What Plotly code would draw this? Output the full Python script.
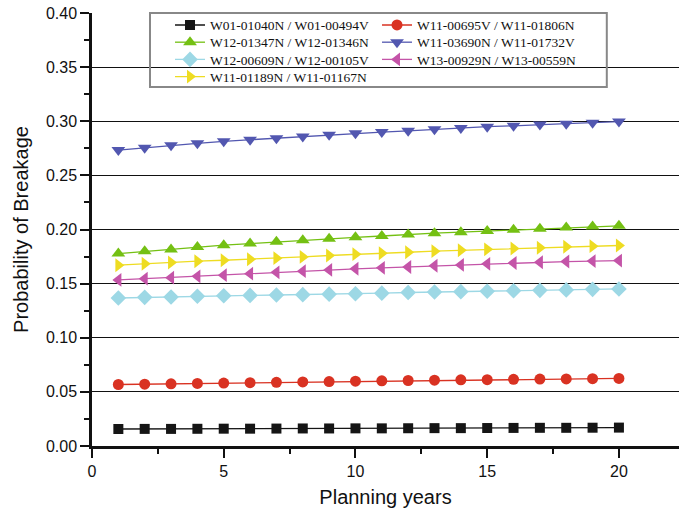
import plotly.graph_objects as go

years = list(range(1, 21))

names = [
    "W01-01040N / W01-00494V",
    "W11-00695V / W11-01806N",
    "W12-01347N / W12-01346N",
    "W11-03690N / W11-01732V",
    "W12-00609N / W12-00105V",
    "W13-00929N / W13-00559N",
    "W11-01189N / W11-01167N",
]

w01 = [0.0157, 0.0158, 0.0158, 0.0159, 0.0160, 0.0160, 0.0161, 0.0162, 0.0162, 0.0163,
       0.0163, 0.0164, 0.0165, 0.0165, 0.0166, 0.0167, 0.0168, 0.0168, 0.0169, 0.0170]
w11_00695 = [0.0568, 0.0571, 0.0574, 0.0578, 0.0581, 0.0585, 0.0588, 0.0592, 0.0595, 0.0599,
             0.0602, 0.0605, 0.0608, 0.0611, 0.0613, 0.0616, 0.0618, 0.0620, 0.0622, 0.0624]
w12_01347 = [0.1778, 0.1798, 0.1815, 0.1838, 0.1855, 0.1870, 0.1886, 0.1900, 0.1915, 0.1928,
             0.1940, 0.1954, 0.1966, 0.1975, 0.1985, 0.1997, 0.2006, 0.2018, 0.2027, 0.2034]
w11_03690 = [0.2734, 0.2756, 0.2778, 0.2796, 0.2815, 0.2830, 0.2843, 0.2860, 0.2875, 0.2890,
             0.2900, 0.2912, 0.2926, 0.2938, 0.2950, 0.2958, 0.2970, 0.2978, 0.2987, 0.2997]
w12_00609 = [0.1367, 0.1373, 0.1377, 0.1383, 0.1388, 0.1391, 0.1395, 0.1398, 0.1403, 0.1407,
             0.1412, 0.1418, 0.1422, 0.1426, 0.1429, 0.1434, 0.1438, 0.1442, 0.1447, 0.1451]
w13_00929 = [0.1534, 0.1546, 0.1555, 0.1567, 0.1578, 0.1592, 0.1604, 0.1615, 0.1627, 0.1637,
             0.1646, 0.1654, 0.1665, 0.1673, 0.1683, 0.1691, 0.1697, 0.1704, 0.1708, 0.1713]
w11_01189 = [0.1670, 0.1684, 0.1695, 0.1707, 0.1716, 0.1725, 0.1735, 0.1747, 0.1760, 0.1772,
             0.1781, 0.1790, 0.1800, 0.1808, 0.1817, 0.1824, 0.1831, 0.1841, 0.1846, 0.1852]

series = [w01, w11_00695, w12_01347, w11_03690, w12_00609, w13_00929, w11_01189]
colors = ["#151515", "#D93222", "#74C013", "#5257B0", "#9DD8E5", "#C454A8", "#EEDC22"]
symbols = ["square", "circle", "triangle-up", "triangle-down", "diamond", "triangle-left", "triangle-right"]
sizes = [10, 11, 12, 12, 12, 12, 12]
# legend rows (two entries per row)
legend_ids = ["legend", "legend", "legend2", "legend2", "legend3", "legend3", "legend4"]

fig = go.Figure()
for name, ys, c, s, sz, lg in zip(names, series, colors, symbols, sizes, legend_ids):
    fig.add_trace(go.Scatter(
        x=years, y=ys, name=name, mode="lines+markers",
        line=dict(color=c, width=1.3),
        marker=dict(symbol=s, size=sz, color=c),
        legend=lg,
    ))

legend_font = dict(family="Liberation Serif, Times New Roman, serif", size=13.5, color="#111")
row_pitch = 17.2 / 433.0
rows = {}
for i, key in enumerate(["legend", "legend2", "legend3", "legend4"]):
    rows[key] = dict(x=0.1329, y=1.0076 - i * row_pitch, xanchor="left", yanchor="top",
                     orientation="h", font=legend_font, bgcolor="rgba(0,0,0,0)",
                     itemwidth=30, entrywidth=162, entrywidthmode="pixels")

fig.update_layout(
    width=679, height=517,
    margin=dict(l=92, r=0, t=13, b=71),
    paper_bgcolor="white", plot_bgcolor="white",
    font=dict(family="Liberation Sans, Arial, sans-serif", color="#111"),
    shapes=[dict(type="rect", xref="paper", yref="paper", x0=0.0988, x1=0.877, y0=0.829, y1=1.0,
                 line=dict(color="#888", width=2), fillcolor="rgba(0,0,0,0)", layer="above")],
    **rows,
)
fig.update_xaxes(
    range=[0, 22.28], tickvals=[0, 5, 10, 15, 20], showgrid=False, zeroline=False, automargin=False,
    showline=True, linecolor="#111", linewidth=2.5,
    ticks="outside", ticklen=9, tickwidth=2, tickcolor="#111",
    minor=dict(tickvals=[2.5, 7.5, 12.5, 17.5], ticks="outside", ticklen=5, tickwidth=2, tickcolor="#111"),
    tickfont=dict(size=16), title=dict(text="Planning years", font=dict(size=20), standoff=12),
)
fig.update_yaxes(
    range=[0, 0.4], tickvals=[0, 0.05, 0.1, 0.15, 0.2, 0.25, 0.3, 0.35, 0.4], tickformat=".2f",
    showgrid=True, gridcolor="#111", gridwidth=1, zeroline=False, automargin=False,
    showline=True, linecolor="#111", linewidth=2.5,
    ticks="outside", ticklen=9, tickwidth=2, tickcolor="#111",
    minor=dict(tickvals=[0.025, 0.075, 0.125, 0.175, 0.225, 0.275, 0.325, 0.375], ticks="outside",
               ticklen=5, tickwidth=2, tickcolor="#111", showgrid=False),
    tickfont=dict(size=16), title=dict(text="Probability of Breakage", font=dict(size=20), standoff=12),
)

fig.write_html("out.html", config={"displayModeBar": False},
               post_script="document.body.style.margin='0';")
